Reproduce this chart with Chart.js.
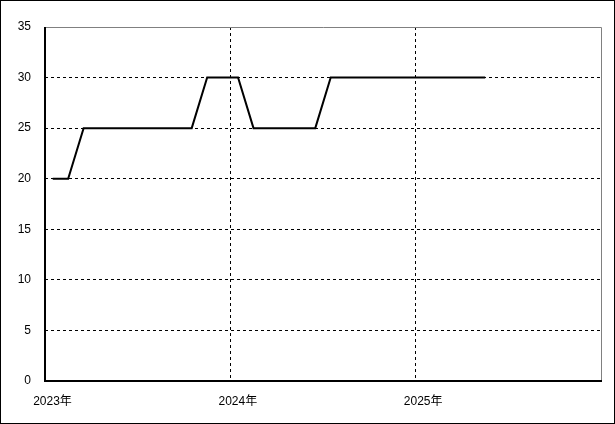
<!DOCTYPE html>
<html>
<head>
<meta charset="utf-8">
<script src="https://cdn.jsdelivr.net/npm/chart.js@4/dist/chart.umd.min.js"></script>
<style>
html,body{margin:0;padding:0;background:#fff;}
canvas{display:block;}
</style>
</head>
<body>
<canvas id="c" width="615" height="424"></canvas>
<script>
// Data (monthly values)
const months = ['2023-01','2023-02','2023-03','2023-04','2023-05','2023-06','2023-07','2023-08','2023-09','2023-10','2023-11','2023-12',
                '2024-01','2024-02','2024-03','2024-04','2024-05','2024-06','2024-07','2024-08','2024-09','2024-10','2024-11','2024-12',
                '2025-01','2025-02','2025-03','2025-04','2025-05'];
const values = [20,20,25,25,25,25,25,25,25,25,30,30,
                30,25,25,25,25,25,30,30,30,30,30,30,
                30,30,30,30,30];
const yearTicks = [2023, 2024, 2025, 2026];
const yTicks = [0,5,10,15,20,25,30,35];

const baseYear = yearTicks[0];
const points = months.map((m, i) => {
  const [y, mo] = m.split('-').map(Number);
  return { x: (y - baseYear) * 12 + (mo - 1) + 0.5, y: values[i] };
});
const xMax = (yearTicks[yearTicks.length - 1] - baseYear) * 12;

const FONT = { family: '"Liberation Sans", "Noto Sans CJK JP", sans-serif', size: 12 };

const framePlugin = {
  id: 'frame',
  afterDatasetsDraw(chart) {
    const { ctx, chartArea: a } = chart;
    ctx.save();
    ctx.lineWidth = 1;
    ctx.strokeStyle = '#808080';
    ctx.beginPath();
    ctx.moveTo(a.left, a.top + 0.5); ctx.lineTo(a.right + 0.5, a.top + 0.5);
    ctx.lineTo(a.right + 0.5, a.bottom);
    ctx.stroke();
    ctx.strokeStyle = '#000';
    ctx.lineWidth = 2;
    ctx.beginPath();
    ctx.moveTo(a.left, a.top); ctx.lineTo(a.left, a.bottom); ctx.lineTo(a.right + 1, a.bottom);
    ctx.stroke();
    ctx.lineWidth = 1;
    ctx.strokeRect(0.5, 0.5, chart.width - 1, chart.height - 1);
    ctx.restore();
  }
};

new Chart(document.getElementById('c'), {
  type: 'line',
  data: {
    datasets: [{
      data: points,
      borderColor: '#000',
      borderWidth: 2,
      pointRadius: 0,
      tension: 0,
      fill: false
    }]
  },
  options: {
    responsive: false,
    animation: false,
    devicePixelRatio: 1,
    layout: { padding: { left: 0, top: 27, right: 14, bottom: 0 } },
    plugins: { legend: { display: false }, tooltip: { enabled: false } },
    scales: {
      x: {
        type: 'linear',
        min: 0,
        max: xMax,
        afterBuildTicks(s) { s.ticks = yearTicks.map(y => ({ value: (y - baseYear) * 12 })); },
        afterFit(s) { s.height = 43; },
        grid: {
          drawTicks: false,
          color: c => (c.tick && (c.tick.value === 0 || c.tick.value === xMax)) ? 'rgba(0,0,0,0)' : '#000',
          lineWidth: 1
        },
        border: { display: false, dash: [3, 3] },
        ticks: {
          color: '#000',
          font: FONT,
          padding: 13,
          labelOffset: 7.5,
          maxRotation: 0,
          autoSkip: false,
          callback: v => (v >= xMax ? '' : (baseYear + v / 12) + '年')
        }
      },
      y: {
        min: 0,
        max: 35,
        afterBuildTicks(s) { s.ticks = yTicks.map(v => ({ value: v })); },
        afterFit(s) { s.width = 45; },
        grid: {
          drawTicks: false,
          color: c => (c.tick && (c.tick.value === 0 || c.tick.value === 35)) ? 'rgba(0,0,0,0)' : '#000',
          lineWidth: 1
        },
        border: { display: false, dash: [3, 3] },
        ticks: {
          color: '#000',
          font: FONT,
          padding: 14
        }
      }
    }
  },
  plugins: [framePlugin]
});
</script>
</body>
</html>
